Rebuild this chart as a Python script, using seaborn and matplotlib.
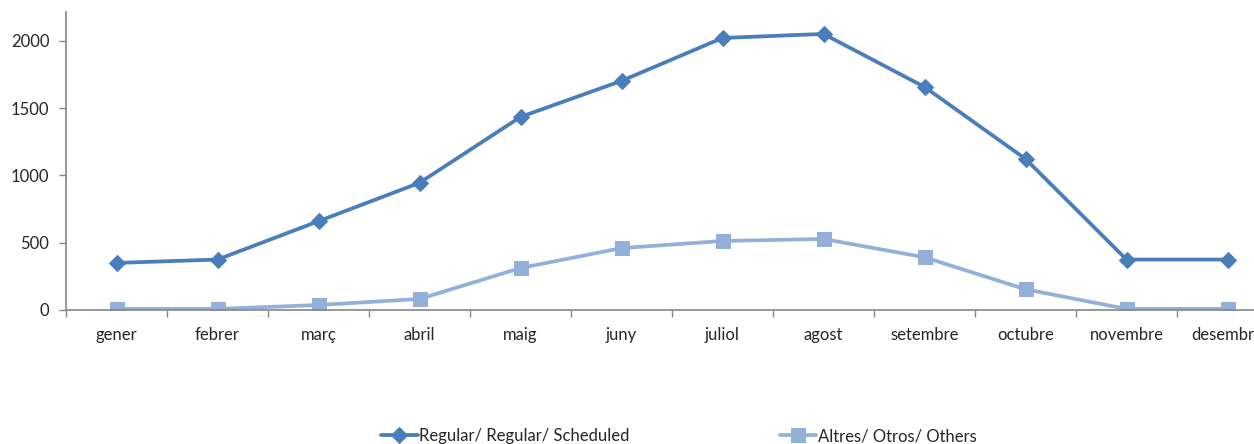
import numpy as np
import pandas as pd
import matplotlib
matplotlib.use("Agg")
import matplotlib.pyplot as plt
import seaborn as sns

months = ["gener", "febrer", "març", "abril", "maig", "juny", "juliol",
          "agost", "setembre", "octubre", "novembre", "desembre"]
regular = [350, 375, 660, 945, 1435, 1703, 2022, 2052, 1658, 1123, 375, 375]
others = [8, 8, 37, 82, 312, 460, 513, 528, 392, 154, 8, 8]
series_names = ["Regular/ Regular/ Scheduled", "Altres/ Otros/ Others"]
yticks = [0, 500, 1000, 1500, 2000]

sns.set_style("white")
plt.rcParams["font.family"] = ["Lato", "DejaVu Sans"]

df = pd.DataFrame({
    "month": months * 2,
    "value": regular + others,
    "series": [series_names[0]] * len(months) + [series_names[1]] * len(months),
})

fig = plt.figure(figsize=(12.54, 4.44), dpi=100)
ax = fig.add_axes([66 / 1254, 134 / 444, 1212 / 1254, 298 / 444])

palette = {series_names[0]: "#4A7EBB", series_names[1]: "#93B1D8"}
markers = {series_names[0]: "D", series_names[1]: "s"}
sizes = {series_names[0]: 8, series_names[1]: 10}

for name in series_names:
    sub = df[df["series"] == name]
    sns.lineplot(data=sub, x="month", y="value", ax=ax, color=palette[name],
                 marker=markers[name], markersize=sizes[name],
                 markeredgecolor=palette[name], linewidth=2.7, label=name,
                 sort=False)

ax.set_xlim(-0.5, 11.5)
ax.set_ylim(0, 2215)
ax.set_yticks(yticks)
ax.set_xticks(range(len(months)))
ax.set_xticklabels(months)
ax.set_xticks(np.arange(-0.5, 12, 1), minor=True)
ax.set_xlabel("")
ax.set_ylabel("")

for s in ["top", "right"]:
    ax.spines[s].set_visible(False)
for s in ["left", "bottom"]:
    ax.spines[s].set_color("#868686")
    ax.spines[s].set_linewidth(1.2)

ax.tick_params(axis="x", which="major", length=0, pad=12, labelsize=12)
ax.tick_params(axis="x", which="minor", length=5, width=1, color="#868686",
               direction="out", bottom=True)
ax.tick_params(axis="y", length=5, width=1, color="#868686", direction="out",
               pad=7, labelsize=12, left=True)

ax.get_legend().remove()
handles, labels = ax.get_legend_handles_labels()
fig.legend(handles, labels, loc="center", bbox_to_anchor=(679 / 1254, 8 / 444),
           ncol=2, frameon=False, fontsize=12, handlelength=2.2,
           handletextpad=0.1, columnspacing=9.0, borderaxespad=0)

fig.savefig("out.png", dpi=100)
